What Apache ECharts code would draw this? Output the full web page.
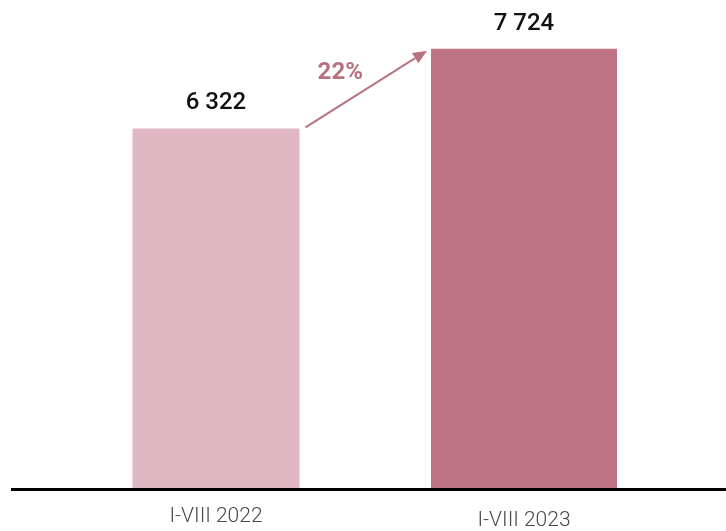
<!DOCTYPE html>
<html>
<head>
<meta charset="utf-8">
<script src="https://cdn.jsdelivr.net/npm/echarts@6/dist/echarts.min.js"></script>
<style>
	html, body { margin: 0; padding: 0; background: #fff; }
	#chartContainer { width: 726px; height: 531px; }
</style>
</head>
<body>
<div id="chartContainer"></div>
<script>
var categories = ['I-VIII 2022', 'I-VIII 2023'];
var values = [6322, 7724];
var barColors = ['#dfb8c3', '#bf7486'];
var barWidths = [167, 186];
var growthLabel = '22%';

function fmtNum(v) {
	return String(v).replace(/\B(?=(\d{3})+(?!\d))/g, ' ');
}

var chart = {
	myChart: null,
	/**
	 * 初始化
	 */
	init: function () {
		chart.myChart = echarts.init(document.getElementById('chartContainer'), null, {renderer: 'canvas'});
		var dataArr = [];
		for (var i = 0; i < values.length; i++) {
			dataArr.push({
				value: values[i],
				symbolSize: [barWidths[i], '100%'],
				itemStyle: {color: barColors[i]}
			});
		}
		var catData = [
			{value: categories[0]},
			{value: categories[1], textStyle: {padding: [4, 0, 0, 0]}}
		];
		var option = {
			animation: false,
			grid: {left: 62, right: 48, top: 33, bottom: 42},
			xAxis: [{
				type: 'category',
				data: catData,
				axisLine: {show: false},
				axisTick: {show: false},
				axisLabel: {
					color: '#4a4a4a',
					fontFamily: 'Roboto',
					fontWeight: 300,
					fontSize: 21,
					margin: 18
				}
			}],
			yAxis: [{
				type: 'value',
				min: 0,
				max: 8000,
				show: false,
				splitLine: {show: false}
			}],
			series: [{
				type: 'pictorialBar',
				symbol: 'rect',
				symbolPosition: 'start',
				data: dataArr,
				label: {
					show: true,
					position: 'top',
					distance: 13,
					color: '#111',
					fontFamily: 'Roboto',
					fontWeight: 500,
					fontSize: 24,
					formatter: function (p) { return fmtNum(p.value); }
				}
			}]
		};
		chart.myChart.setOption(option);
		chart.drawArrow();
	},
	/**
	 * 增长箭头
	 */
	drawArrow: function () {
		var p1 = chart.myChart.convertToPixel({gridIndex: 0}, [0, values[0]]);
		var p2 = chart.myChart.convertToPixel({gridIndex: 0}, [1, values[1]]);
		var x1 = p1[0] + barWidths[0] / 2 + 6, y1 = p1[1] - 1;
		var x2 = p2[0] - barWidths[1] / 2 - 4, y2 = p2[1] + 2;
		var ang = Math.atan2(y2 - y1, x2 - x1);
		var hl = 14, hw = 6;
		var bx = x2 - hl * Math.cos(ang), by = y2 - hl * Math.sin(ang);
		var nx = -Math.sin(ang) * hw, ny = Math.cos(ang) * hw;
		chart.myChart.setOption({
			graphic: [{
				type: 'line',
				shape: {x1: 11, y1: 489.5, x2: 726, y2: 489.5},
				style: {stroke: '#000', lineWidth: 3}
			}, {
				type: 'line',
				shape: {x1: x1, y1: y1, x2: bx, y2: by},
				style: {stroke: '#b9727f', lineWidth: 2}
			}, {
				type: 'polygon',
				shape: {points: [[x2, y2], [bx + nx, by + ny], [bx - nx, by - ny]]},
				style: {fill: '#b9727f'}
			}, {
				type: 'text',
				x: (x1 + x2) / 2 - 26,
				y: (y1 + y2) / 2 - 16,
				style: {
					text: growthLabel,
					fill: '#b9707f',
					font: 'bold 24px Roboto',
					align: 'center',
					verticalAlign: 'middle'
				}
			}]
		});
	}
};

chart.init();
</script>
</body>
</html>
